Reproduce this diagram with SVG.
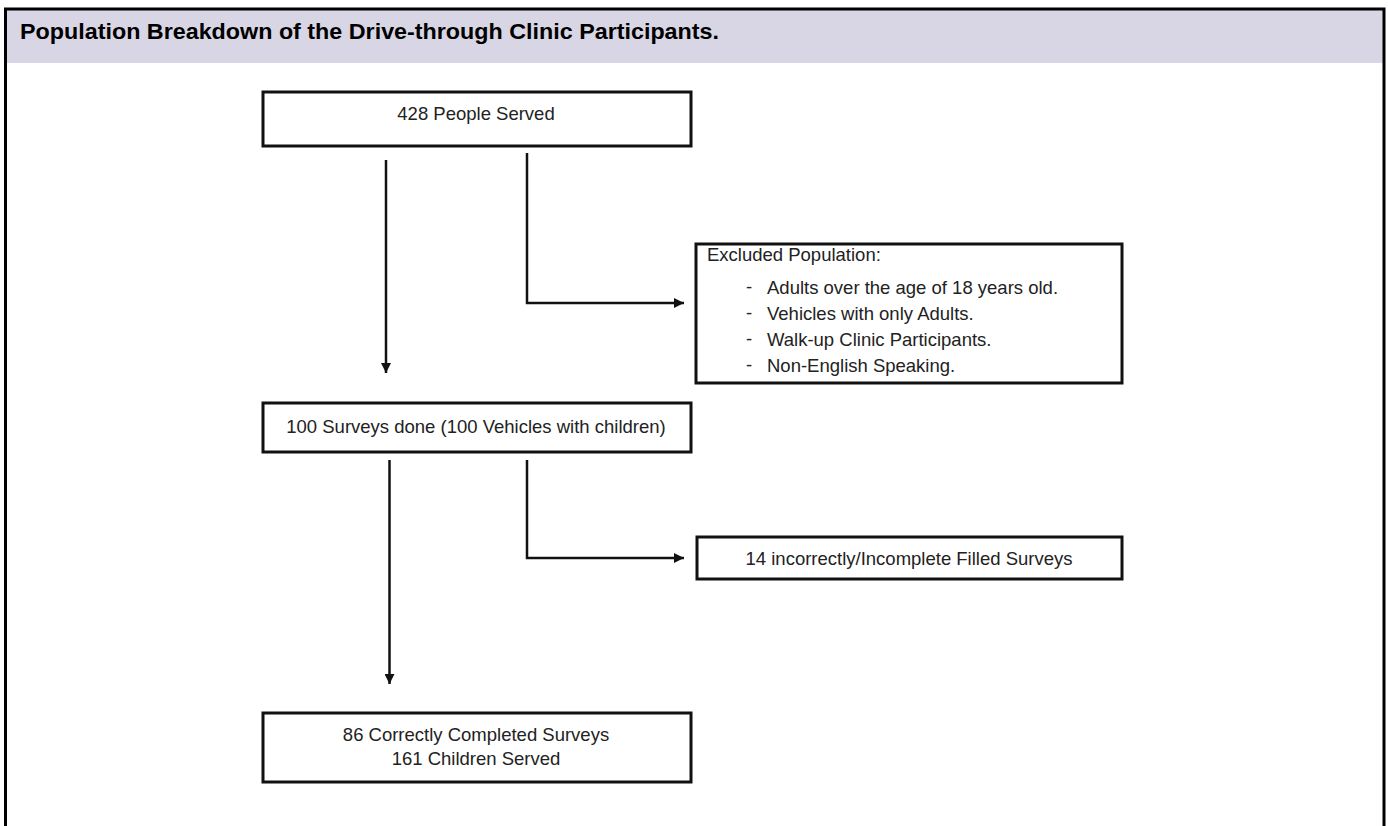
<svg xmlns="http://www.w3.org/2000/svg" width="1388" height="826" viewBox="0 0 1388 826">
<defs>
<style>
.box{fill:#fff;stroke:#111;stroke-width:3}
.t{font-family:"Liberation Sans",Arial,sans-serif;font-size:18.5px;fill:#222}
.c{text-anchor:middle}
.ln{fill:none;stroke:#111;stroke-width:2.5}
.title{font-family:"Liberation Sans",Arial,sans-serif;font-weight:bold;font-size:21.5px;fill:#000}
</style>
<marker id="ah" viewBox="0 0 10 10" refX="10" refY="5" markerWidth="4" markerHeight="4" orient="auto" markerUnits="strokeWidth">
<path d="M0,0 L10,5 L0,10 z" fill="#111"/>
</marker>
</defs>
<rect x="0" y="0" width="1388" height="826" fill="#fff"/>
<g id="frame">
<rect x="6" y="10" width="1377" height="53" fill="#d8d6e4"/>
<path d="M5.5,826 V9 H1384 V826" fill="none" stroke="#000" stroke-width="3"/>
<text class="title" x="20" y="39" textLength="699" lengthAdjust="spacingAndGlyphs">Population Breakdown of the Drive-through Clinic Participants.</text>
</g>
<g id="connectors">
<path class="ln" d="M386,160 V373" marker-end="url(#ah)"/>
<path class="ln" d="M527,153 V303 H684" marker-end="url(#ah)"/>
<path class="ln" d="M389.5,460 V684" marker-end="url(#ah)"/>
<path class="ln" d="M527,460 V558 H684" marker-end="url(#ah)"/>
</g>
<g id="node-served">
<rect class="box" x="263" y="92" width="428" height="54"/>
<text class="t c" x="476" y="120">428 People Served</text>
</g>
<g id="node-excluded">
<rect class="box" x="696" y="244" width="426" height="139"/>
<text class="t" x="707" y="261">Excluded Population:</text>
<text class="t" x="746" y="293">-</text>
<text class="t" x="767" y="294">Adults over the age of 18 years old.</text>
<text class="t" x="746" y="319">-</text>
<text class="t" x="767" y="320">Vehicles with only Adults.</text>
<text class="t" x="746" y="345">-</text>
<text class="t" x="767" y="346">Walk-up Clinic Participants.</text>
<text class="t" x="746" y="371">-</text>
<text class="t" x="767" y="372">Non-English Speaking.</text>
</g>
<g id="node-surveys">
<rect class="box" x="263" y="403" width="428" height="49"/>
<text class="t c" x="476" y="433">100 Surveys done (100 Vehicles with children)</text>
</g>
<g id="node-incorrect">
<rect class="box" x="697" y="537" width="425" height="42"/>
<text class="t c" x="909" y="565">14 incorrectly/Incomplete Filled Surveys</text>
</g>
<g id="node-correct">
<rect class="box" x="263" y="713" width="428" height="69"/>
<text class="t c" x="476" y="741">86 Correctly Completed Surveys</text>
<text class="t c" x="476" y="765">161 Children Served</text>
</g>
</svg>
